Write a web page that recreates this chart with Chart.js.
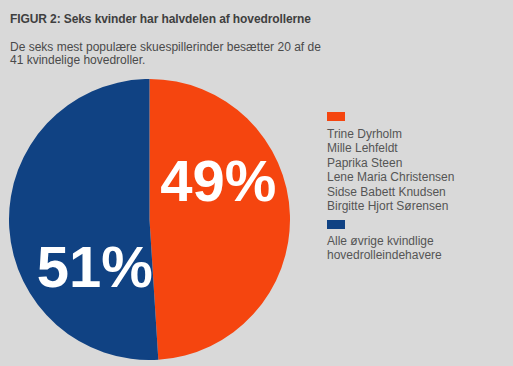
<!DOCTYPE html>
<html>
<head>
<meta charset="utf-8">
<script src="https://cdn.jsdelivr.net/npm/chart.js@4.4.1/dist/chart.umd.min.js"></script>
<style>
  body { margin:0; background:#d9d9d9; font-family:"Liberation Sans", Arial, sans-serif; }
  #wrap { position:relative; width:513px; height:366px; overflow:hidden; }
  #title { position:absolute; left:10px; top:12px; font-size:12px; letter-spacing:-0.1px; font-weight:bold; color:#3f3f3f; }
  #sub { position:absolute; left:10px; top:41px; font-size:12px; line-height:13px; color:#4a4a4a; }
  #pieBox { position:absolute; left:9px; top:79px; width:281px; height:281px; }
  #legend { position:absolute; left:327px; top:112px; font-size:12px; line-height:14.4px; color:#555; }
  .sw { width:18px; height:9px; margin-bottom:6px; }
  .grp { margin-bottom:7px; }
  .grp.last { line-height:13.5px; }
</style>
</head>
<body>
<div id="wrap">
  <div id="title">FIGUR 2: Seks kvinder har halvdelen af hovedrollerne</div>
  <div id="sub">De seks mest populære skuespillerinder besætter 20 af de<br>41 kvindelige hovedroller.</div>
  <div id="pieBox"><canvas id="pieChart"></canvas></div>
  <div id="legend"></div>
</div>
<script>
const groups = ['Seks mest populære', 'Alle øvrige'];
const shares = [49, 51];
const colors = ['#f5450f', '#104283'];
const legendLines = [
  ['Trine Dyrholm', 'Mille Lehfeldt', 'Paprika Steen', 'Lene Maria Christensen', 'Sidse Babett Knudsen', 'Birgitte Hjort Sørensen'],
  ['Alle øvrige kvindlige', 'hovedrolleindehavere']
];

// legend
let leg = document.getElementById('legend');
legendLines.forEach(function(lines, i){
  let g = document.createElement('div');
  g.className = 'grp' + (i == legendLines.length - 1 ? ' last' : '');
  g.innerHTML = '<div class="sw" style="background:' + colors[i] + '"></div>' + lines.join('<br>');
  leg.appendChild(g);
});

// big percent labels inside the slices
const pctLabels = {
  id: 'pctLabels',
  afterDatasetsDraw(chart){
    let c = chart.ctx;
    let meta = chart.getDatasetMeta(0);
    let where = [[0.35, 0.555], [0.28, 0.525]]; // fraction along slice, fraction of radius
    c.save();
    c.fillStyle = '#fff';
    c.font = 'bold 58px "Liberation Sans", Arial, sans-serif';
    c.textAlign = 'center';
    c.textBaseline = 'middle';
    meta.data.forEach(function(arc, i){
      let a = arc.startAngle + (arc.endAngle - arc.startAngle) * where[i][0];
      let r = arc.outerRadius * where[i][1];
      c.fillText(shares[i] + '%', arc.x + Math.cos(a) * r, arc.y + Math.sin(a) * r + 2);
    });
    c.restore();
  }
};

new Chart(document.getElementById('pieChart'), {
  type: 'pie',
  data: {
    labels: groups,
    datasets: [{
      data: shares,
      backgroundColor: colors,
      borderWidth: 0
    }]
  },
  options: {
    responsive: true,
    maintainAspectRatio: false,
    animation: false,
    plugins: {
      legend: { display: false },
      tooltip: { enabled: false }
    }
  },
  plugins: [pctLabels]
});
</script>
</body>
</html>
